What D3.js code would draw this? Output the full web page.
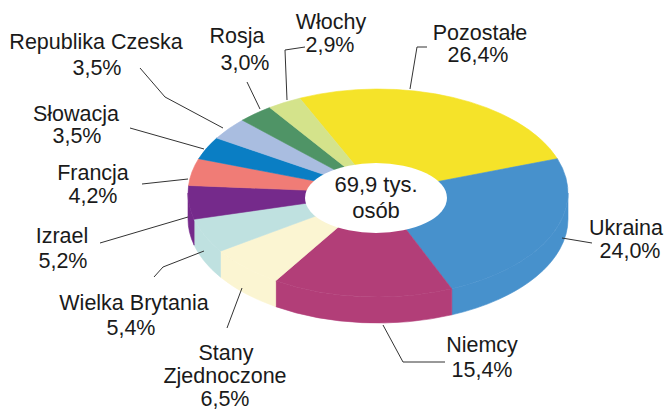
<!DOCTYPE html>
<html>
<head>
<meta charset="utf-8">
<script src="https://cdn.jsdelivr.net/npm/d3@7"></script>
<style>
  body { margin: 0; background: #fff; }
  svg text { font-family: "Liberation Sans", Arial, sans-serif; fill: #1a1a1a; }
</style>
</head>
<body>
<svg id="chart" width="664" height="410"></svg>
<script>
const countries = ['Pozostałe', 'Ukraina', 'Niemcy', 'Stany Zjednoczone', 'Wielka Brytania',
  'Izrael', 'Francja', 'Słowacja', 'Republika Czeska', 'Rosja', 'Włochy'];
const shares = [26.4, 24.0, 15.4, 6.5, 5.4, 5.2, 4.2, 3.5, 3.5, 3.0, 2.9];
const colors = ['#f5e329', '#4791cc', '#b23e78', '#fbf5d2', '#bfe1e0',
  '#752a8b', '#f07c76', '#0a7ec4', '#a9bde0', '#4f9466', '#d4e38b'];
const totalLabel = ['69,9 tys.', 'osób'];

// label layout: line centres and baselines, leader polyline
const labelLayout = [
  { lines: [[480, 40], [478, 62]], leader: [[427, 47], [417, 47], [410, 89]] },
  { lines: [[626, 235], [630, 258]], leader: [[592, 243], [562, 238]] },
  { lines: [[482, 352], [482, 377]], leader: [[445, 362], [403, 362], [383, 325]] },
  { lines: [[226, 360], [225, 383], [225, 406]], split: true, leader: [[227, 328], [242, 288]] },
  { lines: [[134, 310], [131, 335]], leader: [[154, 277], [163, 267], [204, 251]] },
  { lines: [[62, 243], [63, 268]], leader: [[100, 243], [188, 217]] },
  { lines: [[93, 180], [93, 203]], leader: [[142, 184], [188, 179]] },
  { lines: [[76, 121], [77, 143]], leader: [[130, 128], [204, 149]] },
  { lines: [[96, 49], [97, 75]], leader: [[140, 68], [165, 97], [223, 128]] },
  { lines: [[237, 43], [245, 70]], leader: [[247, 82], [260, 109]] },
  { lines: [[331, 29], [330, 52]], leader: [[305, 47], [285, 50], [287, 100]] }
];

const cx = 378, cy = 193, rx = 190, ry = 104, depth = 26;
const hole = { cx: 376, cy: 198, rx: 71, ry: 35 };
const startDeg = -24.3;

const svg = d3.select('#chart');
const pl = d3.formatLocale({ decimal: ',', thousands: ' ', grouping: [3], currency: ['', ' zł'] });
const fmt = v => pl.format('.1f')(v) + '%';

const data = countries.map((c, i) => ({ name: c, value: shares[i], color: colors[i], layout: labelLayout[i] }));

const startA = startDeg * Math.PI / 180;
const pie = d3.pie().value(d => d.value).sort(null)
  .startAngle(startA).endAngle(startA + 2 * Math.PI);
const arcs = pie(data);

const px = a => cx + rx * Math.sin(a);
const py = a => cy - ry * Math.cos(a);

// side walls (front half only)
const walls = arcs.map(d => {
  const s = Math.max(d.startAngle, Math.PI / 2);
  const e = Math.min(d.endAngle, 3 * Math.PI / 2);
  if (s >= e) return null;
  return { color: d.data.color,
    path: `M${px(s)},${py(s)} A${rx},${ry} 0 0 1 ${px(e)},${py(e)}` +
      ` L${px(e)},${py(e) + depth} A${rx},${ry} 0 0 0 ${px(s)},${py(s) + depth} Z` };
}).filter(Boolean);

svg.append('g').selectAll('path')
  .data(walls)
  .join('path')
  .attr('d', d => d.path)
  .attr('fill', d => d.color)
  .attr('stroke', d => d.color)
  .attr('stroke-width', 0.6);

// top face
const arc = d3.arc().innerRadius(0).outerRadius(1);
svg.append('g')
  .attr('transform', `translate(${cx},${cy}) scale(${rx},${ry})`)
  .selectAll('path')
  .data(arcs)
  .join('path')
  .attr('d', arc)
  .attr('fill', d => d.data.color)
  .attr('stroke', d => d.data.color)
  .attr('stroke-width', 0.6)
  .attr('vector-effect', 'non-scaling-stroke');

// centre hole
svg.append('ellipse')
  .attr('cx', hole.cx).attr('cy', hole.cy)
  .attr('rx', hole.rx).attr('ry', hole.ry)
  .attr('fill', '#fff');

svg.append('g').selectAll('text')
  .data(totalLabel)
  .join('text')
  .attr('x', hole.cx)
  .attr('y', (d, i) => 192 + i * 26)
  .attr('text-anchor', 'middle')
  .style('font-size', '22px')
  .text(d => d);

// leaders
const line = d3.line();
svg.append('g').selectAll('path')
  .data(data)
  .join('path')
  .attr('d', d => line(d.layout.leader))
  .attr('fill', 'none')
  .attr('stroke', '#333')
  .attr('stroke-width', 1);

// labels
const labels = svg.append('g').selectAll('g')
  .data(data)
  .join('g');

labels.each(function (d) {
  const texts = (d.layout.split ? d.name.split(' ') : [d.name]).concat([fmt(d.value)]);
  d3.select(this).selectAll('text')
    .data(texts)
    .join('text')
    .attr('x', (t, i) => d.layout.lines[i][0])
    .attr('y', (t, i) => d.layout.lines[i][1])
    .attr('text-anchor', 'middle')
    .style('font-size', '21.5px')
    .text(t => t);
});
</script>
</body>
</html>
